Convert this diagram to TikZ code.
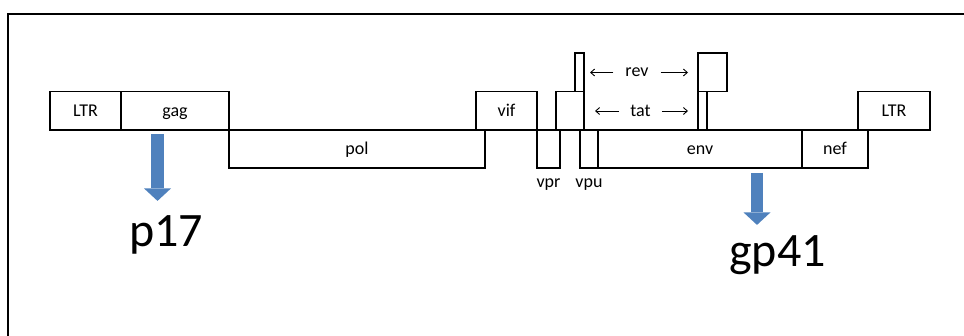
\documentclass[tikz,border=0pt]{standalone}
\usepackage{fontspec}
\setmainfont{Carlito}
\usepackage{tikz}
\usetikzlibrary{arrows.meta, positioning}
\definecolor{cleaveblue}{HTML}{4F81BD}
\definecolor{framegray}{HTML}{000000}

\begin{document}
\begin{tikzpicture}[x=1pt, y=-1pt,
  gene/.style={draw, line width=1.2pt, minimum height=38.5pt, inner sep=0pt, outer sep=0pt,
               text height=14pt, text depth=2.5pt,
               anchor=north west, font=\fontsize{18}{18}\selectfont},
  lbl/.style={inner sep=0pt, font=\fontsize{18}{18}\selectfont},
  product/.style={inner sep=0pt, anchor=base, font=\fontsize{48}{48}\selectfont},
  spanarrow/.style={-{Straight Barb[length=4pt, width=7pt]}, line width=0.9pt},
  cleave/.style={-{Triangle[length=12.5pt, width=27pt, line width=0pt]}, line width=12.5pt, color=cleaveblue}
]
  \useasboundingbox (0,0) rectangle (964,336);
  \draw[line width=1.3pt, color=framegray] (8,336) -- (8,14) -- (964,14);

  % top row
  \node[gene, minimum width=71pt] (ltrL) at (50,91.5) {LTR};
  \node[gene, minimum width=108pt] (gag) at (121,91.5) {gag};
  \node[gene, minimum width=61pt] (vif) at (476,91.5) {vif};
  \node[gene, minimum width=28pt] (tatA) at (556,91.5) {};
  \node[gene, minimum width=9pt] (tatB) at (698,91.5) {};
  \node[gene, minimum width=72pt] (ltrR) at (858,91.5) {LTR};
  % rev exons
  \node[gene, minimum width=9pt] (revA) at (575,53) {};
  \node[gene, minimum width=29pt] (revB) at (698,53) {};
  % bottom row
  \node[gene, minimum width=256pt, minimum height=38pt] (pol) at (229,130) {pol};
  \node[gene, minimum width=23pt, minimum height=38pt] (vpr) at (537,130) {};
  \node[gene, minimum width=18pt, minimum height=38pt] (vpu) at (580,130) {};
  \node[gene, minimum width=204pt, minimum height=38pt] (env) at (598,130) {env};
  \node[gene, minimum width=66pt, minimum height=38pt] (nef) at (802,130) {nef};

  \node[lbl, below=11pt of vpr] (vprlbl) {vpr};
  \node[lbl, below=11pt of vpu] (vpulbl) {vpu};

  % spliced rev / tat
  \node[lbl, inner xsep=12pt] (revlbl) at (637,72.5) {rev};
  \node[lbl, inner xsep=11pt] (tatlbl) at (640.5,111) {tat};
  \coordinate (revL) at (590,72.5);
  \coordinate (revR) at (688,72.5);
  \coordinate (tatL) at (595,111);
  \coordinate (tatR) at (688,111);
  \draw[spanarrow] (revlbl.west) -- (revL);
  \draw[spanarrow] (revlbl.east) -- (revR);
  \draw[spanarrow] (tatlbl.west) -- (tatL);
  \draw[spanarrow] (tatlbl.east) -- (tatR);

  % cleavage products
  \node[product] (p17) at (166,247) {p17};
  \node[product] (gp41) at (777.5,267) {gp41};
  \draw[cleave] ([xshift=-17.5pt, yshift=-4pt]gag.south) -- ([xshift=-8.5pt, yshift=15pt]p17.north);
  \draw[cleave] ([xshift=57pt, yshift=-5pt]env.south) -- ([xshift=-20.5pt, yshift=11pt]gp41.north);
\end{tikzpicture}
\end{document}
